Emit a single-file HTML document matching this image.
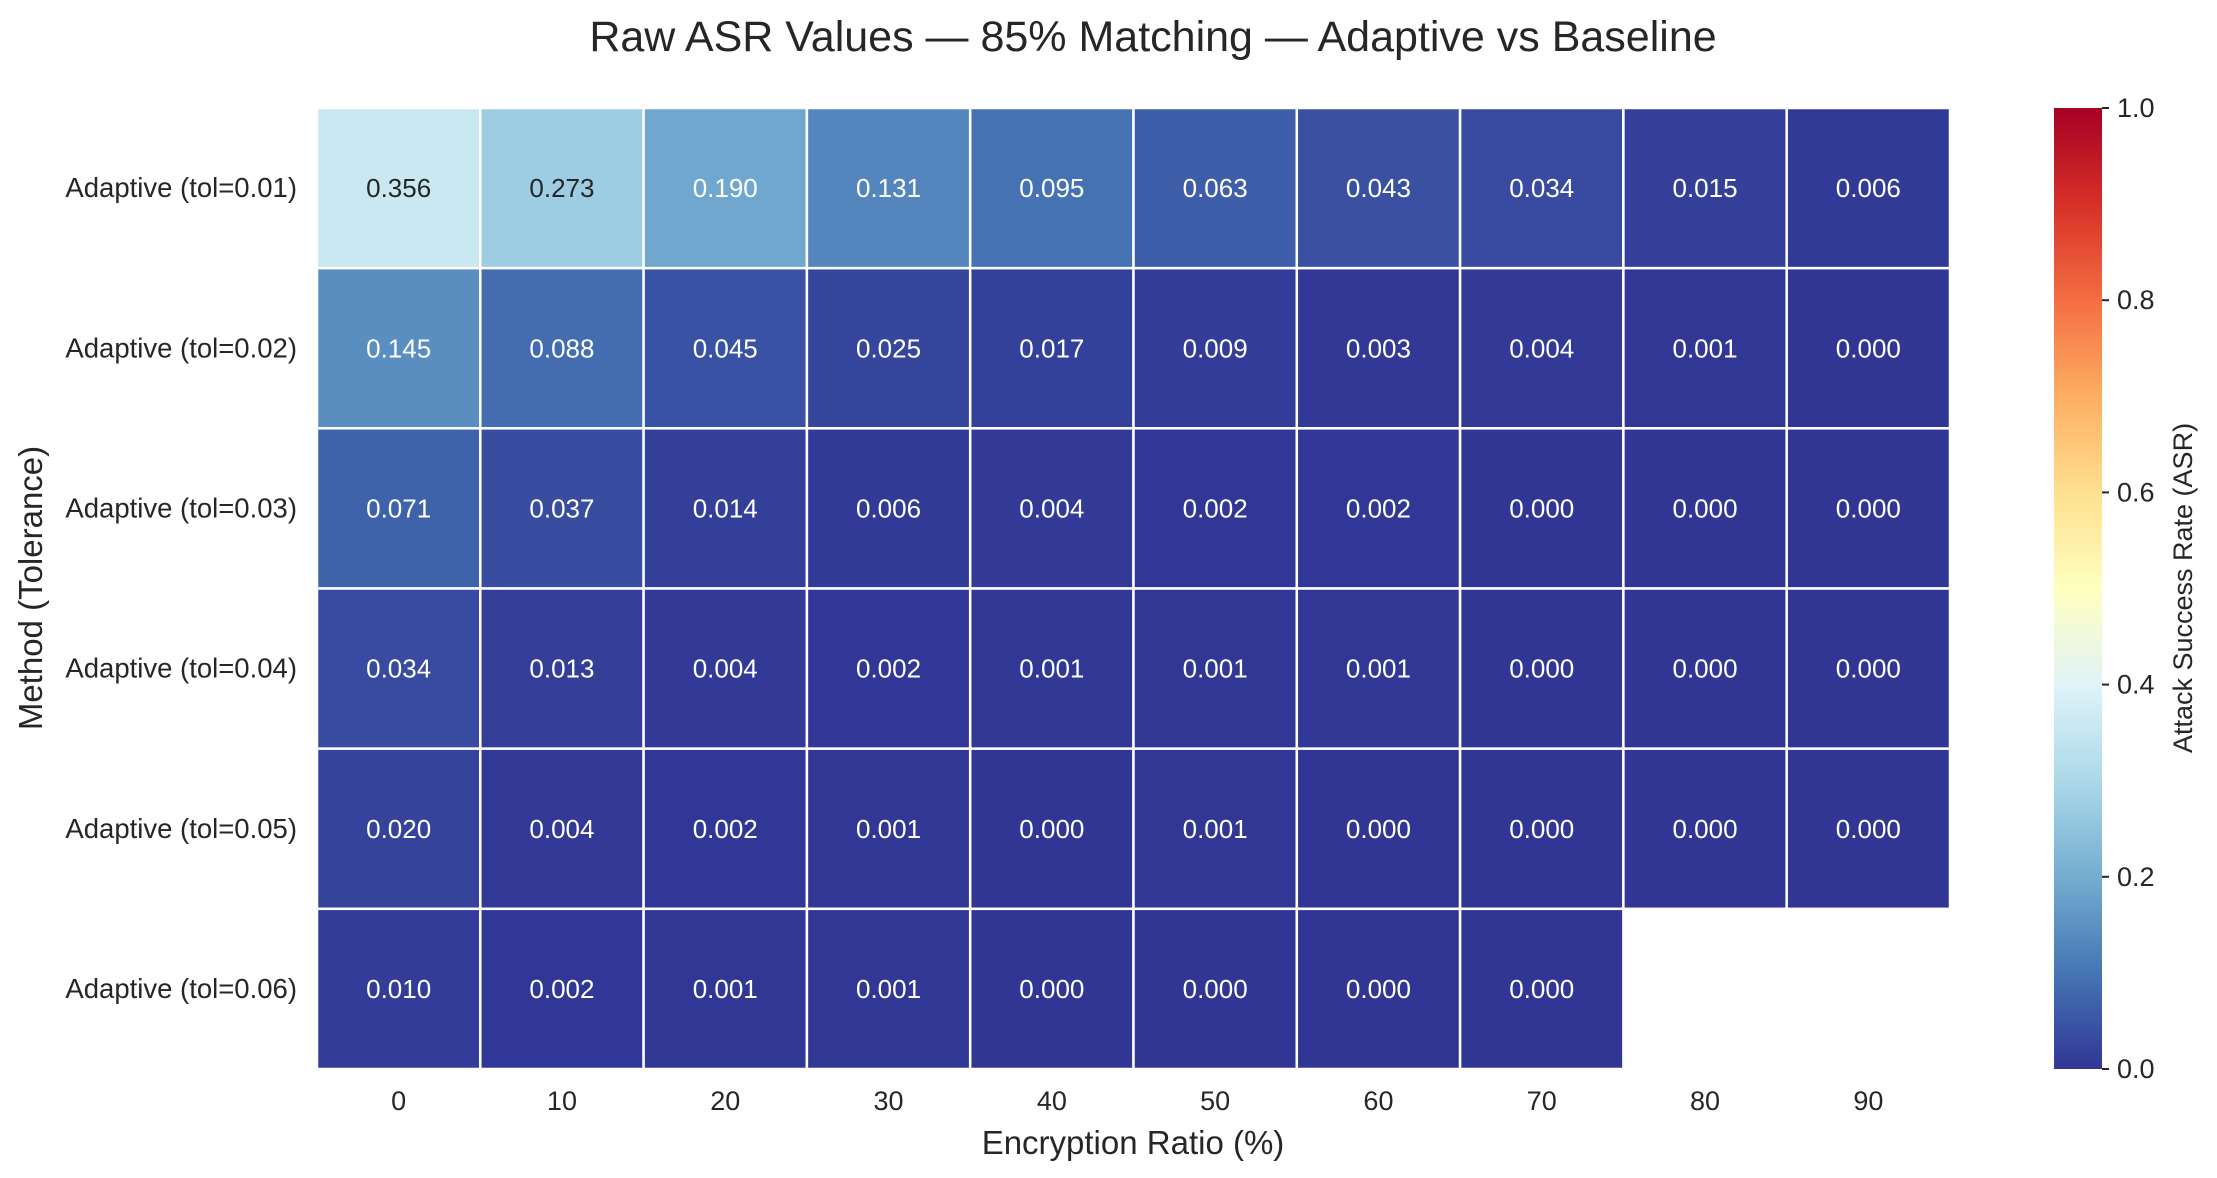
<!DOCTYPE html>
<html><head><meta charset="utf-8"><style>
html,body{margin:0;padding:0;background:#fff;}
svg{display:block;font-family:"Liberation Sans",Arial,sans-serif;}
</style></head><body>
<svg id="chart" width="2217" height="1178" viewBox="0 0 2217 1178">
<defs>
<linearGradient id="cbgrad" x1="0" y1="1" x2="0" y2="0">
<stop offset="0" stop-color="#313695"/><stop offset="0.1" stop-color="#4575b4"/><stop offset="0.2" stop-color="#74add1"/><stop offset="0.3" stop-color="#abd9e9"/><stop offset="0.4" stop-color="#e0f3f8"/><stop offset="0.5" stop-color="#ffffbf"/><stop offset="0.6" stop-color="#fee090"/><stop offset="0.7" stop-color="#fdae61"/><stop offset="0.8" stop-color="#f46d43"/><stop offset="0.9" stop-color="#d73027"/><stop offset="1" stop-color="#a50026"/>
</linearGradient>
</defs>
<text x="1153" y="51" text-anchor="middle" font-size="43" fill="#262626">Raw ASR Values — 85% Matching — Adaptive vs Baseline</text>
<g id="cells"></g>
<g id="xticks"></g>
<g id="yticks"></g>
<text x="1133" y="1154" text-anchor="middle" font-size="33" fill="#262626">Encryption Ratio (%)</text>
<text transform="translate(42,588) rotate(-90)" text-anchor="middle" font-size="33" fill="#262626">Method (Tolerance)</text>
<rect x="2054" y="108" width="48" height="961" fill="url(#cbgrad)"/>
<g id="cbticks"></g>
<text transform="translate(2192,588) rotate(-90)" text-anchor="middle" font-size="27" fill="#262626">Attack Success Rate (ASR)</text>
</svg>
<script>
const categories = ["0","10","20","30","40","50","60","70","80","90"];
const methods = ["Adaptive (tol=0.01)","Adaptive (tol=0.02)","Adaptive (tol=0.03)","Adaptive (tol=0.04)","Adaptive (tol=0.05)","Adaptive (tol=0.06)"];
const row1 = [0.356,0.273,0.190,0.131,0.095,0.063,0.043,0.034,0.015,0.006];
const row2 = [0.145,0.088,0.045,0.025,0.017,0.009,0.003,0.004,0.001,0.000];
const row3 = [0.071,0.037,0.014,0.006,0.004,0.002,0.002,0.000,0.000,0.000];
const row4 = [0.034,0.013,0.004,0.002,0.001,0.001,0.001,0.000,0.000,0.000];
const row5 = [0.020,0.004,0.002,0.001,0.000,0.001,0.000,0.000,0.000,0.000];
const row6 = [0.010,0.002,0.001,0.001,0.000,0.000,0.000,0.000,null,null];
const cbTicks = ["0.0","0.2","0.4","0.6","0.8","1.0"];

const rows=[row1,row2,row3,row4,row5,row6];
const L=317,R=1950,T=108,B=1069;
const cw=(R-L)/categories.length, rh=(B-T)/methods.length;
const xPos=i=>L+i*cw, yPos=j=>T+j*rh;
const cbY=v=>1069-v*(1069-108);
const stops=["#313695","#4575b4","#74add1","#abd9e9","#e0f3f8","#ffffbf","#fee090","#fdae61","#f46d43","#d73027","#a50026"].map(h=>[parseInt(h.slice(1,3),16),parseInt(h.slice(3,5),16),parseInt(h.slice(5,7),16)]);
function cmap(v){v=Math.max(0,Math.min(1,v));const p=v*10,i=Math.min(9,Math.floor(p)),f=p-i;return stops[i].map((c,k)=>c+(stops[i+1][k]-c)*f);}
function lum(c){const l=c.map(x=>{x/=255;return x<=0.03928?x/12.92:Math.pow((x+0.055)/1.055,2.4)});return 0.2126*l[0]+0.7152*l[1]+0.0722*l[2];}
const NS="http://www.w3.org/2000/svg";
const cells=document.getElementById('cells');
rows.forEach((r,j)=>r.forEach((v,i)=>{
 if(v===null) return;
 const c=cmap(v);
 const rect=document.createElementNS(NS,'rect');
 rect.setAttribute('x',xPos(i));rect.setAttribute('y',yPos(j));rect.setAttribute('width',cw);rect.setAttribute('height',rh);
 rect.setAttribute('fill',`rgb(${c.map(Math.round).join(',')})`);rect.setAttribute('stroke','#fff');rect.setAttribute('stroke-width','2.5');
 
 
 cells.appendChild(rect);
 const t=document.createElementNS(NS,'text');
 t.setAttribute('x',xPos(i)+cw/2);t.setAttribute('y',yPos(j)+rh/2+9);t.setAttribute('text-anchor','middle');t.setAttribute('font-size','26');
 t.setAttribute('fill',lum(c)>0.408?'#262626':'#ffffff');t.textContent=v.toFixed(3);
 
 
 cells.appendChild(t);
}));
const xt=document.getElementById('xticks');
categories.forEach((c,i)=>{const t=document.createElementNS(NS,'text');t.setAttribute('x',xPos(i)+cw/2);t.setAttribute('y',1110);t.setAttribute('text-anchor','middle');t.setAttribute('font-size','27');t.setAttribute('fill','#262626');t.textContent=c;
 
 
 xt.appendChild(t);});
const yt=document.getElementById('yticks');
methods.forEach((m,j)=>{const t=document.createElementNS(NS,'text');t.setAttribute('x',297);t.setAttribute('y',yPos(j)+rh/2+9);t.setAttribute('text-anchor','end');t.setAttribute('font-size','27.5');t.setAttribute('fill','#262626');t.textContent=m;
 
 
 yt.appendChild(t);});
const cb=document.getElementById('cbticks');
cbTicks.forEach(s=>{const y=cbY(parseFloat(s));
 const l=document.createElementNS(NS,'line');l.setAttribute('x1',2102);l.setAttribute('x2',2109);l.setAttribute('y1',y);l.setAttribute('y2',y);l.setAttribute('stroke','#262626');l.setAttribute('stroke-width','2');
 
 
 cb.appendChild(l);
 const t=document.createElementNS(NS,'text');t.setAttribute('x',2117);t.setAttribute('y',y+9);t.setAttribute('font-size','27');t.setAttribute('fill','#262626');t.textContent=s;
 
 
 cb.appendChild(t);});
</script>
</body></html>
